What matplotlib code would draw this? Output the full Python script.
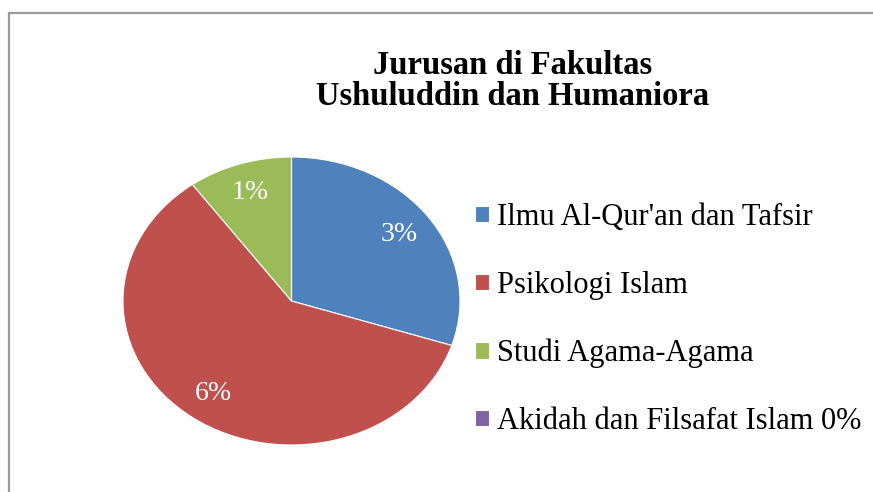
import matplotlib.pyplot as plt
from matplotlib.patches import Rectangle

# data
categories = ["Ilmu Al-Qur'an dan Tafsir", "Psikologi Islam",
              "Studi Agama-Agama", "Akidah dan Filsafat Islam"]
values = [3, 6, 1, 0]
colors = ["#4F81BD", "#C0504D", "#9BBB59", "#8064A2"]
title = "Jurusan di Fakultas\nUshuluddin dan Humaniora"

plt.rcParams['font.family'] = ['Liberation Serif', 'DejaVu Serif']

fig = plt.figure(figsize=(8.73, 4.92), dpi=100)

# gray frame round the chart area
fig.patches.append(Rectangle((9 / 873, -0.05), 1.0, 1 - 13 / 492 + 0.05,
                             transform=fig.transFigure, fill=False,
                             edgecolor="#9a9a9a", linewidth=1.6))

ax = fig.add_axes([123 / 873, 47 / 492, 337 / 873, 288 / 492])
total = sum(values)


def fmt(pct):
    v = round(pct * total / 100)
    return "" if v == 0 else "%d%%" % v


wedges, texts, autotexts = ax.pie(values, colors=colors, startangle=90,
                                  counterclock=False, autopct=fmt,
                                  pctdistance=0.79,
                                  wedgeprops=dict(edgecolor="white", linewidth=0.8),
                                  textprops=dict(color="white", fontsize=20))
ax.set_aspect("auto")
ax.set_xlim(-1, 1)
ax.set_ylim(-1, 1)

labels = [c + (" %d%%" % v if v == 0 else "") for c, v in zip(categories, values)]
fig.legend(wedges, labels, loc="upper left", bbox_to_anchor=(463 / 873, 1 - 191 / 492),
           frameon=False, fontsize=22, handlelength=0.44, handleheight=0.44,
           handletextpad=0.27, labelspacing=1.27, borderaxespad=0)

fig.text(513 / 873, 1 - 81 / 492, title, ha="center", va="center",
         fontsize=23.5, fontweight="bold", linespacing=0.98)

fig.savefig("out.png", dpi=100)
